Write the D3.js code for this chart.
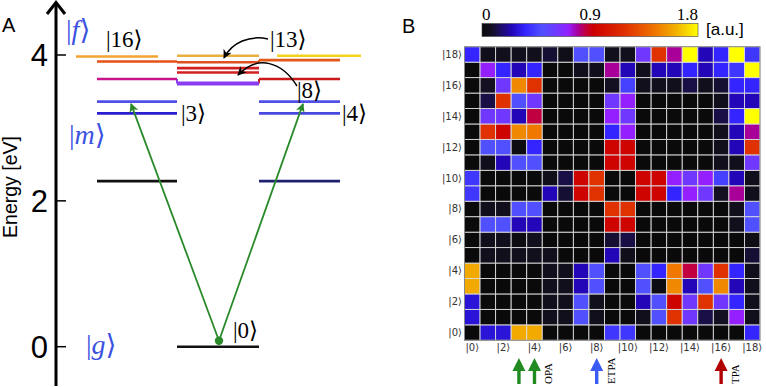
<!DOCTYPE html>
<html><head><meta charset="utf-8">
<script src="https://cdn.jsdelivr.net/npm/d3@7"></script>
<style>body{margin:0;background:#fff}svg{display:block}</style>
</head><body><svg id="c" width="766" height="387"></svg>
<script>
// ---------- DATA ----------
const states = d3.range(19);
const tickStates = [0, 2, 4, 6, 8, 10, 12, 14, 16, 18];
// transition matrix, row = state i, columns = state 0..18  [a.u.]
const transitionMatrix = [
 [0, .3, .3, 1.6, 1.6, 0, 0, 0, 0, .42, .42, 0, 0, 0, 0, 0, 0, 0, .36],
 [.3, 0, 0, 0, 0, .06, .06, .5, .06, 0, 0, .06, .5, 1.2, .62, .12, .08, .72, .06],
 [.3, 0, 0, 0, 0, .06, .06, .5, .06, 0, 0, .25, .5, .95, .62, 1.2, .62, .36, .06],
 [1.6, 0, 0, 0, 0, .06, .06, .25, .5, 0, 0, .5, .03, 1.5, .25, .5, 1.5, .25, .06],
 [1.6, 0, 0, 0, 0, .06, .06, .25, .5, 0, 0, .5, .36, 1.45, .86, .62, 1.2, .36, .06],
 [0, .06, .06, .06, .06, .06, 0, 0, 0, .25, .05, 0, 0, 0, 0, 0, 0, 0, .1],
 [0, .06, .06, .03, .06, 0, 0, 0, 0, .1, .12, 0, 0, 0, 0, 0, 0, 0, .04],
 [0, .5, .5, .25, .25, 0, 0, 0, 0, .95, .95, 0, 0, 0, 0, 0, 0, .06, .5],
 [0, .06, .06, .5, .5, 0, 0, 0, 0, 1.2, 1.2, 0, 0, 0, 0, 0, 0, .06, .5],
 [.42, 0, 0, 0, 0, .25, .1, .95, 1.2, 0, 0, .95, .95, .36, .72, .62, .08, .8, .06],
 [.42, 0, 0, 0, 0, .05, .12, .95, 1.2, 0, 0, .95, .95, .72, .62, .72, .45, .25, .06],
 [0, .06, .25, .5, .5, 0, 0, 0, 0, .95, .95, 0, 0, 0, 0, 0, .06, .06, .62],
 [0, .5, .5, .03, .36, 0, 0, 0, 0, .95, .95, 0, 0, 0, 0, 0, .06, .25, 1.2],
 [0, 1.2, .95, 1.5, 1.45, 0, 0, 0, 0, .36, .72, 0, 0, 0, 0, 0, .06, .25, .8],
 [0, .62, .62, .25, .86, 0, 0, 0, 0, .72, .62, 0, 0, 0, 0, 0, .12, .36, 1.8],
 [0, .12, 1.2, .5, .62, 0, 0, 0, 0, .62, .72, 0, 0, 0, 0, 0, .06, .25, .25],
 [0, .08, .62, 1.5, 1.2, 0, 0, 0, 0, .08, .45, .06, .06, .06, .12, .06, .1, .36, .36],
 [0, .72, .36, .25, .36, 0, 0, .06, .06, .8, .25, .06, .25, .25, .36, .25, .36, .42, 1.8],
 [.36, .06, .06, .06, .06, .1, .04, .5, .5, .06, .06, .62, 1.2, .8, 1.8, .25, .36, 1.8, .42]
];
const colorbarTicks = [0, 0.9, 1.8];
const cmapStops = [0, .08, .15, .25, .36, .5, .62, .72, .8, .86, .93, 1.2, 1.45, 1.6, 1.8];
const cmapColors = ["#0a0a0a","#141022","#1c0c60","#2206b8","#3424ff","#5050ff","#7038ff","#9420ff","#a80098","#c00040","#cc0000","#e03200","#f07800","#f2aa00","#ffff00"];
const markedStates = [3, 4, 8, 16];
const markedColors = ["#218a21", "#218a21", "#3a5cf5", "#b00000"];
const markedLabels = ["", "OPA", "ETPA", "TPA"];

// Panel A: energy levels (eV), column category, color
const energyTicks = [0, 2, 4];
const levelEnergies = [2.27, 3.20, 3.36, 3.67, 3.91, 3.98, 0, 3.99, 3.90, 3.82, 3.76, 3.61, 2.27, 3.20, 3.36, 3.67, 3.93, 3.99];
const levelColumns  = ["L","L","L","L","L","Ls","M","M","M","M","M","M","R","R","R","R","R","Rs"];
const levelColors   = ["#111111","#2a1ed0","#5050e6","#c8148c","#e8501a","#f2a330","#111111","#e8b040","#e05020","#d42020","#d42020","#8a3cf0","#202070","#4848e0","#5050e8","#cc1a1a","#e05a1a","#f5d21a"];
const levelConnections = [[4, 8], [8, 16], [3, 11], [11, 15]];
const excitationTargetEnergy = 3.33;

// ---------- LAYOUT ----------
const svg = d3.select("#c");
const serif = "'Liberation Serif','DejaVu Serif',serif";
const sans = "'Liberation Sans','DejaVu Sans',sans-serif";

// ===== Panel A =====
const yE = d3.scaleLinear().domain([0, 4]).range([346.7, 55]);
const colX = {L:[97,177], Ls:[76,158], M:[177,259], R:[259,340], Rs:[277,361]};
const axX = 56;

svg.append("text").attr("x", 2).attr("y", 32).attr("font-family", sans).attr("font-size", 20).text("A");

svg.append("line").attr("x1", axX).attr("x2", axX).attr("y1", 3).attr("y2", 386)
  .attr("stroke", "#000").attr("stroke-width", 3);
svg.append("path").attr("d", `M${axX-9},14 L${axX},2.5 L${axX+9},14`).attr("fill","none")
  .attr("stroke","#000").attr("stroke-width",3).attr("stroke-linejoin","miter");
const ta = svg.append("g");
energyTicks.forEach(t => {
  ta.append("line").attr("x1", axX).attr("x2", axX+10).attr("y1", yE(t)).attr("y2", yE(t))
    .attr("stroke","#000").attr("stroke-width",1.5);
  ta.append("text").attr("x", 48).attr("y", yE(t)).attr("dy","0.36em").attr("text-anchor","end")
    .attr("font-family", sans).attr("font-size", 31).text(t);
});
svg.append("text").attr("transform","translate(17,187) rotate(-90)").attr("text-anchor","middle")
  .attr("font-family", sans).attr("font-size", 19.5).text("Energy [eV]");

// level connectors
levelConnections.forEach(([a,b]) => {
  const xa = colX[levelColumns[a]][1];
  svg.append("line").attr("x1", xa).attr("x2", xa).attr("y1", yE(levelEnergies[a])).attr("y2", yE(levelEnergies[b]))
    .attr("stroke", levelColors[b]).attr("stroke-width", 2);
});
svg.append("g").selectAll("line").data(levelEnergies).join("line")
  .attr("x1", (d,i) => colX[levelColumns[i]][0]).attr("x2", (d,i) => colX[levelColumns[i]][1])
  .attr("y1", d => yE(d)).attr("y2", d => yE(d))
  .attr("stroke", (d,i) => levelColors[i]).attr("stroke-width", (d,i) => i === 11 ? 4 : 2.6);

// green excitation arrows
const defs = svg.append("defs");
defs.append("marker").attr("id","gh").attr("viewBox","0 0 10 10").attr("refX",9).attr("refY",5)
  .attr("markerWidth",5).attr("markerHeight",5).attr("orient","auto")
  .append("path").attr("d","M0,0 L10,5 L0,10 L2.5,5 Z").attr("fill","#2a8a2a");
defs.append("marker").attr("id","bh").attr("viewBox","0 0 10 10").attr("refX",9).attr("refY",5)
  .attr("markerWidth",6).attr("markerHeight",6).attr("orient","auto")
  .append("path").attr("d","M0,0 L10,5 L0,10 L3,5 Z").attr("fill","#000");
const gx = 219, gy = yE(0) - 6;
[131, 303].forEach(tx => {
  svg.append("line").attr("x1", gx).attr("y1", gy).attr("x2", tx).attr("y2", yE(excitationTargetEnergy))
    .attr("stroke","#2a8a2a").attr("stroke-width",1.8).attr("marker-end","url(#gh)");
});
svg.append("circle").attr("cx", gx).attr("cy", gy).attr("r", 4.2).attr("fill","#2a8a2a");

// curved pointer arrows
svg.append("path").attr("d","M268,39 C250,35 232,42 224,58").attr("fill","none")
  .attr("stroke","#000").attr("stroke-width",1.5).attr("marker-end","url(#bh)");
svg.append("path").attr("d","M297,86 C282,62 258,54 238,75").attr("fill","none")
  .attr("stroke","#000").attr("stroke-width",1.5).attr("marker-end","url(#bh)");

function ket(x, y, inner, size, color, italic) {
  const t = svg.append("text").attr("x", x).attr("y", y).attr("font-family", serif)
    .attr("font-size", size).attr("fill", color);
  t.append("tspan").text("|");
  t.append("tspan").attr("font-style", italic ? "italic" : "normal").text(inner);
  t.append("tspan").text("⟩");
}
const kb = "#3b52e0";
ket(66, 39, "f", 28, kb, true);
ket(106, 47, "16", 23, "#000", false);
ket(69, 144, "m", 28, kb, true);
ket(181, 121, "3", 23, "#000", false);
ket(342, 121, "4", 23, "#000", false);
ket(270, 47, "13", 23, "#000", false);
ket(297, 98, "8", 23, "#000", false);
ket(233, 338, "0", 23, "#000", false);
ket(86, 354, "g", 28, kb, true);

// ===== Panel B =====
svg.append("text").attr("x", 402).attr("y", 33).attr("font-family", sans).attr("font-size", 20).text("B");

const xB = d3.scaleBand().domain(states).range([464.5, 760]);
const yB = d3.scaleBand().domain(states.slice().reverse()).range([46.7, 340.3]);
const cmap = d3.scaleLinear().domain(cmapStops).range(cmapColors).interpolate(d3.interpolateRgb).clamp(true);

const cells = [];
transitionMatrix.forEach((row, i) => row.forEach((v, j) => cells.push({i, j, v})));
svg.append("g").selectAll("rect").data(cells).join("rect")
  .attr("x", d => xB(d.j)).attr("y", d => yB(d.i))
  .attr("width", xB.bandwidth()).attr("height", yB.bandwidth())
  .attr("fill", d => cmap(d.v)).attr("stroke", "#dcdcdc").attr("stroke-width", 0.9);
svg.append("rect").attr("x", 464.5).attr("y", 46.7).attr("width", 760-464.5).attr("height", 340.3-46.7)
  .attr("fill","none").attr("stroke","#888").attr("stroke-width",1);

const gl = svg.append("g").attr("font-family", "'DejaVu Sans',sans-serif").attr("font-size", 10).attr("fill", "#333");
tickStates.forEach(s => {
  gl.append("text").attr("x", 462).attr("y", yB(s) + yB.bandwidth()/2).attr("dy","0.35em")
    .attr("text-anchor","end").text(`|${s}⟩`);
  gl.append("text").attr("x", xB(s) + xB.bandwidth()/2).attr("y", 351)
    .attr("text-anchor","middle").text(`|${s}⟩`);
});

// colorbar
const cbX = d3.scaleLinear().domain([0, 1.8]).range([482, 698]);
const grad = defs.append("linearGradient").attr("id","cbg").attr("x1","0").attr("x2","1").attr("y1","0").attr("y2","0");
d3.range(0, 1.8001, 0.03).forEach(v => grad.append("stop").attr("offset", v/1.8).attr("stop-color", cmap(v)));
svg.append("rect").attr("x", cbX(0)).attr("y", 23.5).attr("width", cbX(1.8)-cbX(0)).attr("height", 13)
  .attr("fill","url(#cbg)").attr("stroke","#444").attr("stroke-width",0.6);
colorbarTicks.forEach((t, k) => {
  svg.append("text").attr("x", cbX(t)).attr("y", 20)
    .attr("text-anchor", k === 0 ? "start" : (k === colorbarTicks.length-1 ? "end" : "middle"))
    .attr("font-family", serif).attr("font-size", 17).text(t);
});
svg.append("text").attr("x", 706).attr("y", 35).attr("font-family", sans).attr("font-size", 17).text("[a.u.]");

// marker arrows below heatmap
markedStates.forEach((s, k) => {
  const cx = xB(s) + xB.bandwidth()/2;
  const tip = 358, hb = 371, bot = 384, hw = 6.5, sw = 1.7;
  svg.append("path").attr("d",
    `M${cx},${tip} L${cx+hw},${hb} L${cx+sw},${hb} L${cx+sw},${bot} L${cx-sw},${bot} L${cx-sw},${hb} L${cx-hw},${hb} Z`)
    .attr("fill", markedColors[k]);
  if (markedLabels[k]) {
    svg.append("text").attr("transform", `translate(${cx+18},384) rotate(-90)`)
      .attr("font-family", serif).attr("font-size", 11).text(markedLabels[k]);
  }
});
</script></body></html>
